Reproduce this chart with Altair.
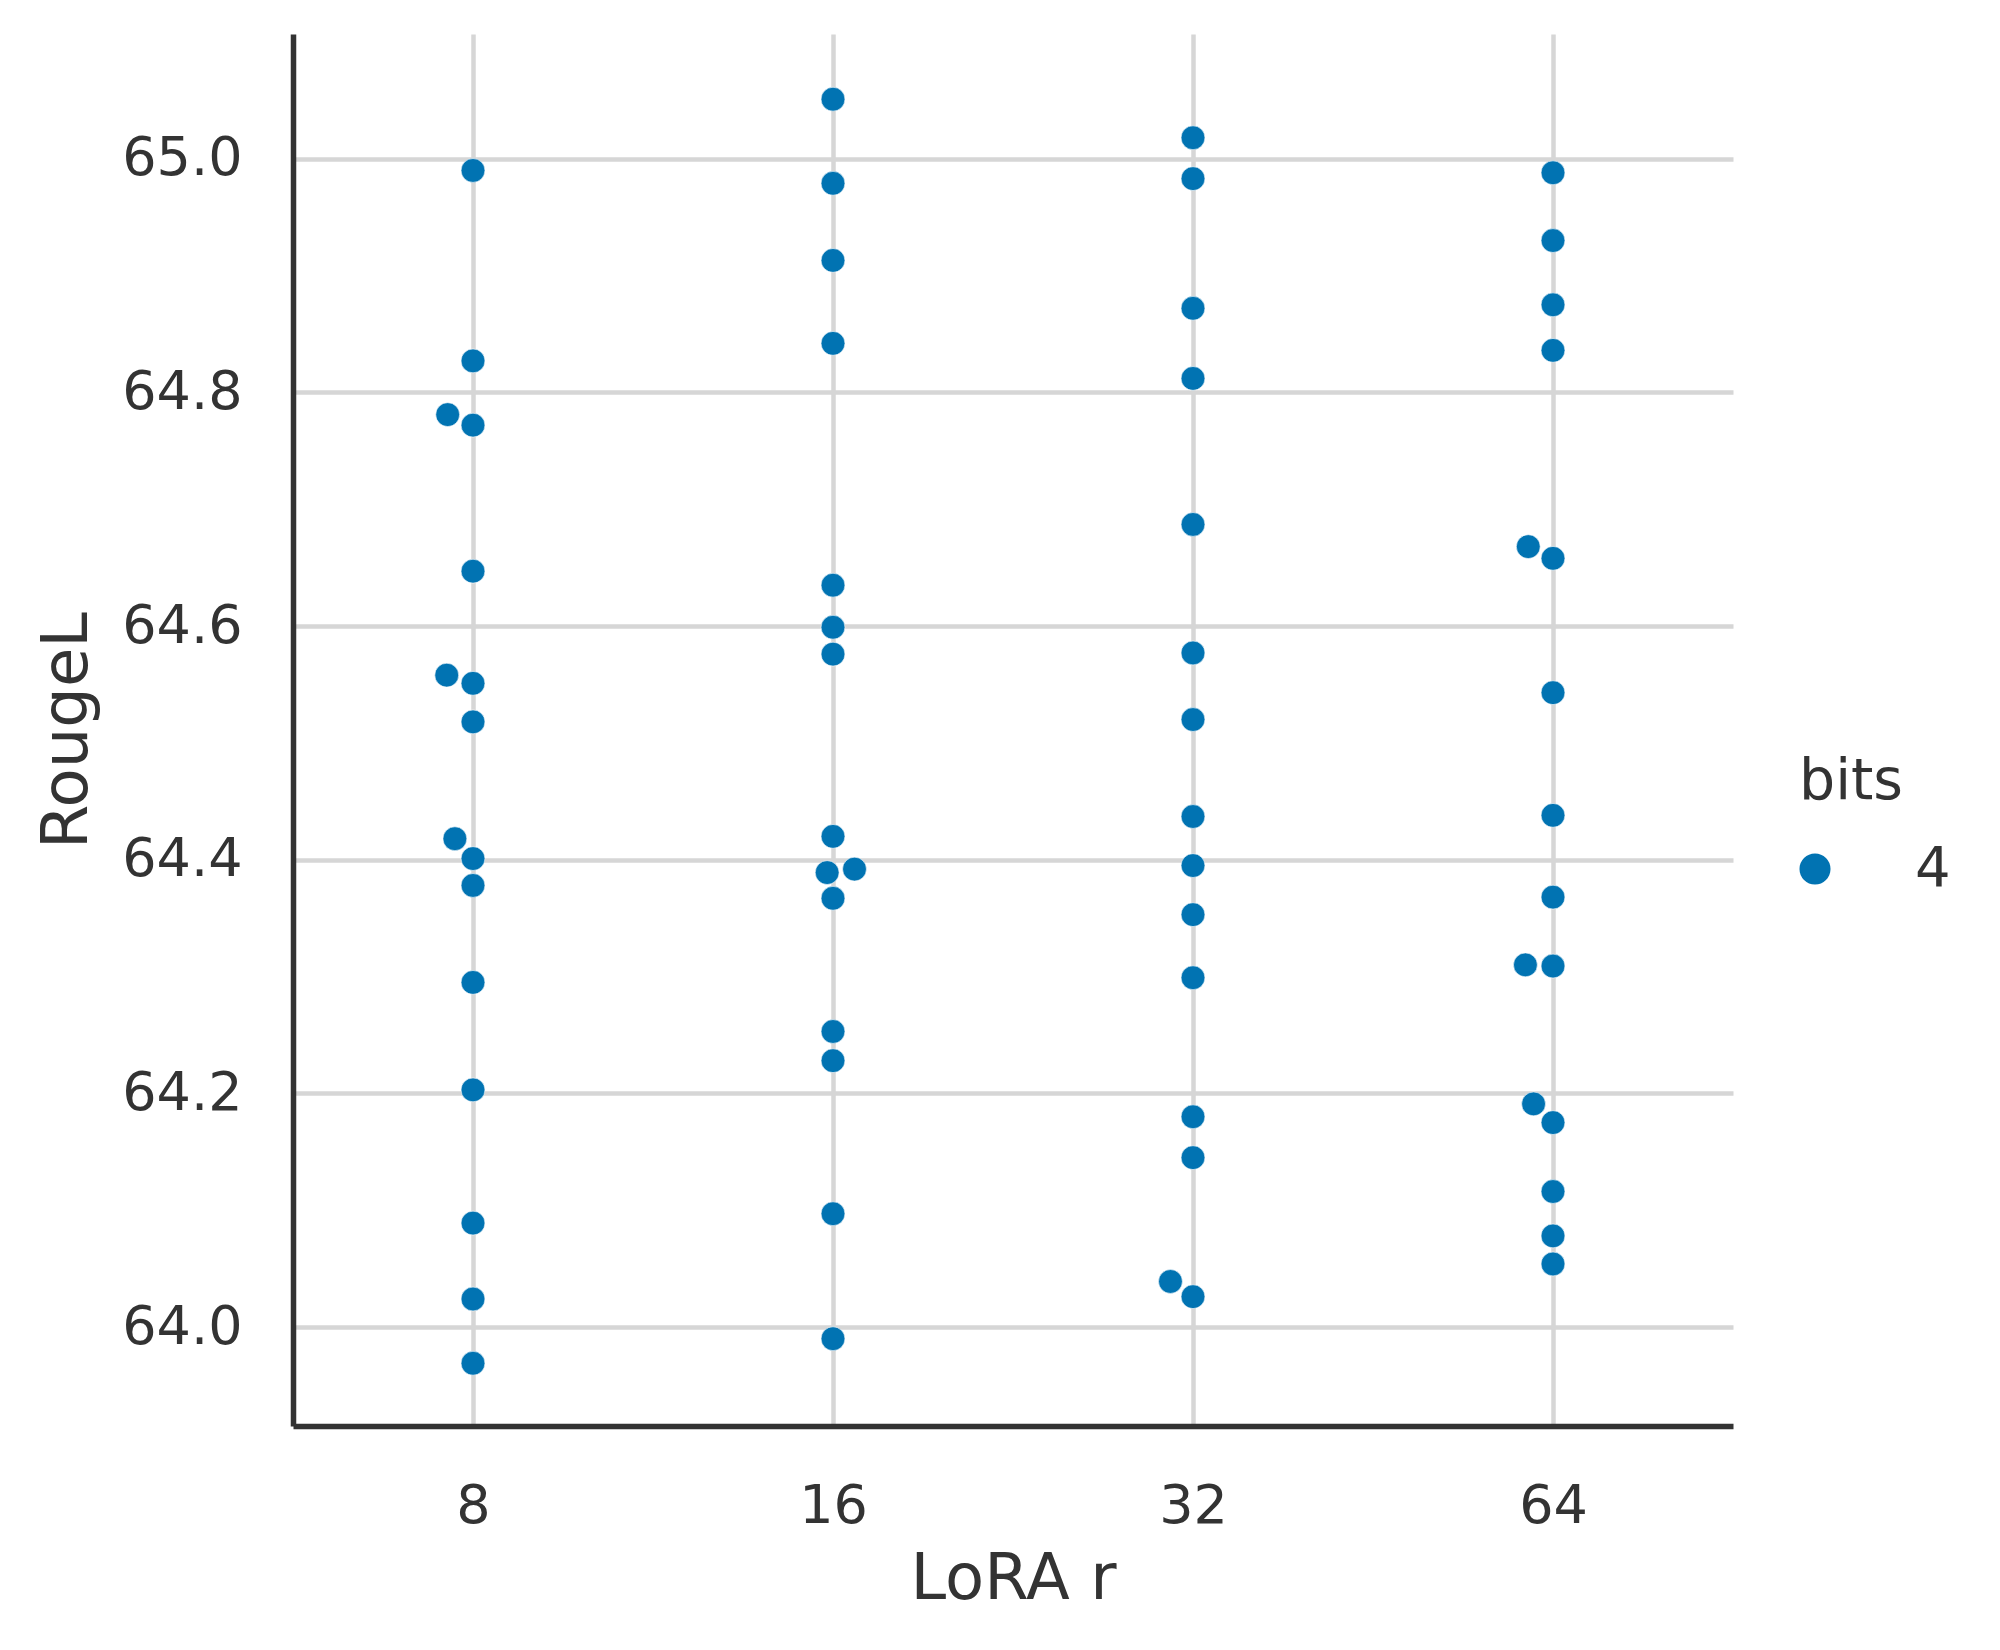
import math
import altair as alt
import pandas as pd

# RougeL scores per LoRA rank (4-bit runs)
lora_r = ["8", "16", "32", "64"]
bits = 4

rouge_r8 = [64.990, 64.827, 64.781, 64.772, 64.647, 64.558, 64.551, 64.518,
            64.418, 64.401, 64.378, 64.295, 64.203, 64.089, 64.024, 63.969]
rouge_r16 = [65.051, 64.979, 64.913, 64.842, 64.635, 64.599, 64.576, 64.420,
             64.389, 64.392, 64.367, 64.253, 64.228, 64.097, 63.990]
rouge_r32 = [65.018, 64.983, 64.872, 64.812, 64.687, 64.577, 64.520, 64.437,
             64.395, 64.353, 64.299, 64.180, 64.145, 64.039, 64.026]
rouge_r64 = [64.988, 64.930, 64.875, 64.836, 64.668, 64.658, 64.543, 64.438,
             64.368, 64.310, 64.309, 64.191, 64.175, 64.116, 64.078, 64.054]
series = [rouge_r8, rouge_r16, rouge_r32, rouge_r64]

y_ticks = [64.0, 64.2, 64.4, 64.6, 64.8, 65.0]

# plot geometry
PLOT_W, PLOT_H = 1440, 1392
Y_MIN, Y_MAX = 63.9153, 65.1068
X_MIN, X_MAX = -0.5, 3.5
DOT_D = 26.3  # collision diameter in px

TEXT = "#333333"
FONT = "DejaVu Sans"
BLUE = "#0173b2"


def swarm_offsets(values):
    """Beeswarm layout: offsets (px) that keep dots from overlapping."""
    ppu = PLOT_H / (Y_MAX - Y_MIN)
    placed = []
    offsets = [0.0] * len(values)
    for i in sorted(range(len(values)), key=lambda k: values[k]):
        y = values[i] * ppu
        neigh = [(x0, y0) for x0, y0 in placed if abs(y - y0) < DOT_D]
        cands = [0.0]
        for x0, y0 in neigh:
            dx = math.sqrt(DOT_D ** 2 - (y - y0) ** 2) * 1.05
            cands += [x0 - dx, x0 + dx]
        cands.sort(key=abs)
        chosen = 0.0
        for c in cands:
            if all((c - x0) ** 2 + (y - y0) ** 2 >= DOT_D ** 2 * 0.999 for x0, y0 in neigh):
                chosen = c
                break
        placed.append((chosen, y))
        offsets[i] = chosen
    return offsets


px_per_cat = PLOT_W / (X_MAX - X_MIN)
rows = []
for idx, (r, vals) in enumerate(zip(lora_r, series)):
    for v, off in zip(vals, swarm_offsets(vals)):
        rows.append({"LoRA r": r, "pos": idx + off / px_per_cat,
                     "RougeL": v, "bits": str(bits)})
df = pd.DataFrame(rows)

label_expr = "[" + ",".join(f"'{s}'" for s in lora_r) + "][datum.value]"

points = alt.Chart(df).mark_circle(
    size=570, opacity=1, stroke="white", strokeWidth=0.6
).encode(
    x=alt.X(
        "pos:Q",
        scale=alt.Scale(domain=[X_MIN, X_MAX], nice=False, zero=False),
        axis=alt.Axis(
            values=[0, 1, 2, 3], labelExpr=label_expr, title="LoRA r",
            grid=True, ticks=False, labelPadding=53, titlePadding=14,
        ),
    ),
    y=alt.Y(
        "RougeL:Q",
        scale=alt.Scale(domain=[Y_MIN, Y_MAX], nice=False, zero=False),
        axis=alt.Axis(
            values=y_ticks, format=".1f", title="RougeL",
            grid=True, ticks=False, labelPadding=51, titlePadding=22,
        ),
    ),
    color=alt.Color(
        "bits:N",
        scale=alt.Scale(range=[BLUE]),
        legend=alt.Legend(
            title="bits", orient="none", legendX=1506, legendY=720,
            symbolType="circle", symbolSize=962, symbolStrokeWidth=0,
            symbolOffset=-12,
            titleFontSize=57, labelFontSize=56, titleFontWeight="normal",
            titlePadding=30, labelOffset=72, padding=0,
        ),
    ),
)

chart = points.properties(
    width=PLOT_W,
    height=PLOT_H,
    autosize=alt.AutoSizeParams(type="none"),
    padding={"left": 293, "top": 34, "right": 267, "bottom": 224},
    background="white",
).configure_view(
    strokeWidth=0
).configure_axis(
    labelFont=FONT, titleFont=FONT, labelColor=TEXT, titleColor=TEXT,
    labelFontSize=54, titleFontSize=64, titleFontWeight="normal",
    domainColor=TEXT, domainWidth=5.5,
    gridColor="#d6d6d6", gridWidth=4.5, gridOpacity=1,
).configure_legend(
    labelFont=FONT, titleFont=FONT, labelColor=TEXT, titleColor=TEXT,
)

chart.save("out.html", embed_options={"renderer": "svg", "actions": False})
